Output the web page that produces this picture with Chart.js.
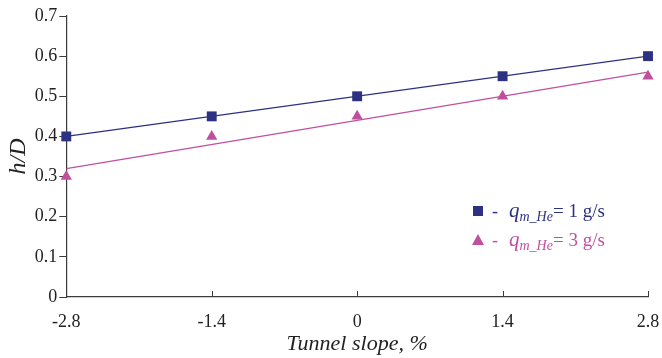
<!DOCTYPE html>
<html>
<head>
<meta charset="utf-8">
<script src="https://cdn.jsdelivr.net/npm/chart.js@4"></script>
<style>
  html, body { margin: 0; padding: 0; background: #fff; }
  #wrap { width: 662px; height: 358px; }
</style>
</head>
<body>
<div id="wrap"><canvas id="chart"></canvas></div>
<script>
// Tunnel slope, %
const slopes = [-2.8, -1.4, 0, 1.4, 2.8];
// h/D measured
const hd1 = [0.40, 0.45, 0.50, 0.55, 0.60];   // q = 1 g/s
const hd3 = [0.30, 0.40, 0.45, 0.50, 0.55];   // q = 3 g/s
// fitted lines (end points)
const fitX = [-2.8, 2.8];
const fit1 = [0.40, 0.60];
const fit3 = [0.32, 0.56];

const xTicks = [-2.8, -1.4, 0, 1.4, 2.8];
const yTicks = [0, 0.1, 0.2, 0.3, 0.4, 0.5, 0.6, 0.7];
const legendRates = ["1 g/s", "3 g/s"];

const navy = "#2d3182";
const pink = "#c04f9f";
const axisColor = "#3a3a3a";
const serif = "'Liberation Serif', 'DejaVu Serif', serif";

const toPts = (xs, ys) => xs.map((x, i) => ({ x, y: ys[i] }));

// x ticks point up into the plot, and the legend has subscripts
const extras = {
    id: "extras",
    afterDraw(chart) {
        const ctx = chart.ctx;
        const xs = chart.scales.x;
        const bottom = chart.chartArea.bottom;
        ctx.save();
        ctx.strokeStyle = axisColor;
        ctx.lineWidth = 1;
        xTicks.forEach(v => {
            const px = Math.round(xs.getPixelForValue(v)) + 0.5;
            ctx.beginPath();
            ctx.moveTo(px, bottom);
            ctx.lineTo(px, bottom - 6);
            ctx.stroke();
        });

        // legend
        const rows = [
            { color: navy, shape: "rect", rate: legendRates[0], y: 211 },
            { color: pink, shape: "tri", rate: legendRates[1], y: 240 },
        ];
        rows.forEach(r => {
            ctx.fillStyle = r.color;
            const cx = 478;
            if (r.shape === "rect") {
                ctx.fillRect(cx - 5, r.y - 5, 10, 10);
            } else {
                ctx.beginPath();
                ctx.moveTo(cx, r.y - 6);
                ctx.lineTo(cx + 6, r.y + 5);
                ctx.lineTo(cx - 6, r.y + 5);
                ctx.closePath();
                ctx.fill();
            }
            ctx.textBaseline = "alphabetic";
            ctx.textAlign = "left";
            const base = r.y + 6;
            ctx.font = "18px " + serif;
            ctx.fillText("-", 492, base);
            ctx.font = "italic 21px " + serif;
            ctx.fillText("q", 509, base);
            let x = 509 + ctx.measureText("q").width;
            ctx.font = "italic 14px " + serif;
            ctx.fillText("m_He", x, base + 4);
            x += ctx.measureText("m_He").width;
            ctx.font = "19px " + serif;
            ctx.fillText("= " + r.rate, x, base);
        });
        ctx.restore();
    }
};

new Chart(document.getElementById("chart"), {
    type: "scatter",
    data: {
        datasets: [
            {
                label: "q = 1 g/s",
                data: toPts(slopes, hd1),
                pointStyle: "rect",
                pointRadius: 7,
                backgroundColor: navy,
                borderColor: navy,
                borderWidth: 0,
                clip: false,
            },
            {
                label: "q = 3 g/s",
                data: toPts(slopes, hd3),
                pointStyle: "triangle",
                pointRadius: 6.5,
                backgroundColor: pink,
                borderColor: pink,
                borderWidth: 0,
                clip: false,
            },
            {
                label: "fit 1",
                type: "line",
                data: toPts(fitX, fit1),
                borderColor: navy,
                borderWidth: 1.3,
                pointRadius: 0,
                fill: false,
            },
            {
                label: "fit 3",
                type: "line",
                data: toPts(fitX, fit3),
                borderColor: pink,
                borderWidth: 1.3,
                pointRadius: 0,
                fill: false,
            },
        ],
    },
    options: {
        responsive: true,
        maintainAspectRatio: false,
        animation: false,
        layout: { padding: { top: 16, right: 0, left: 4, bottom: 1 } },
        plugins: {
            legend: { display: false },
            tooltip: { enabled: false },
        },
        scales: {
            x: {
                type: "linear",
                min: -2.8,
                max: 2.8,
                afterBuildTicks: axis => { axis.ticks = xTicks.map(v => ({ value: v })); },
                afterFit: axis => { axis.paddingRight = 14; },
                ticks: {
                    color: "#222",
                    font: { family: serif, size: 18 },
                    padding: 14,
                    maxRotation: 0,
                    callback: v => String(v),
                },
                grid: { display: true, drawOnChartArea: false, drawTicks: false },
                border: { display: true, color: axisColor, width: 1.2 },
                title: {
                    display: true,
                    text: "Tunnel slope, %",
                    color: "#222",
                    font: { family: serif, size: 22, style: "italic" },
                    padding: { top: -16, bottom: 0 },
                },
            },
            y: {
                min: 0,
                max: 0.7,
                afterBuildTicks: axis => { axis.ticks = yTicks.map(v => ({ value: v })); },
                ticks: {
                    color: "#222",
                    font: { family: serif, size: 18 },
                    padding: 2,
                    callback: v => String(Math.round(v * 10) / 10),
                },
                grid: {
                    display: true,
                    drawOnChartArea: false,
                    drawTicks: true,
                    tickLength: 7,
                    color: axisColor,
                },
                border: { display: true, color: axisColor, width: 1.2 },
                title: {
                    display: true,
                    text: "h/D",
                    color: "#222",
                    font: { family: serif, size: 24, style: "italic" },
                    padding: { top: 0, bottom: 0 },
                },
            },
        },
    },
    plugins: [extras],
});
</script>
</body>
</html>
